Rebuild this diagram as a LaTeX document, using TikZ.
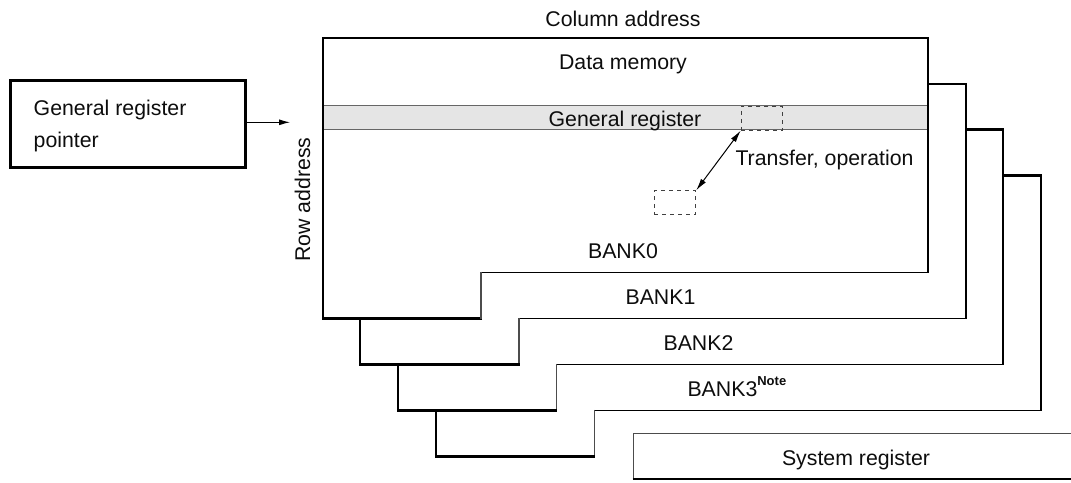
\documentclass[tikz,border=0pt]{standalone}
\usepackage{fontspec}
\setmainfont{Liberation Sans}
\usetikzlibrary{arrows.meta}
\tikzset{
  heavy/.style={draw=black,line width=2.5pt,line cap=butt},
  light/.style={draw=black,line width=1.2pt,line cap=butt},
  notch/.style={draw=black!70,line width=1.2pt,line cap=butt},
  lab/.style={inner sep=0pt,font=\fontsize{21.3}{25}\selectfont,text=black!95},
  dashbox/.style={draw=black!75,line width=0.9pt,dash pattern=on 4pt off 4pt,minimum width=41.6pt,inner sep=0pt,anchor=north west},
  link/.style={draw=black,line width=1pt,-{Latex[length=11pt,width=6pt]}},
  linkboth/.style={draw=black,line width=1pt,{Latex[length=12pt,width=6pt]}-{Latex[length=12pt,width=6pt]}},
}
\begin{document}
\begin{tikzpicture}[x=1pt,y=-1pt]
\useasboundingbox (0,0) rectangle (1071,482);
% register band
\fill[black!10] (323,105.7) rectangle (928,129.7);
\draw[draw=black!60,line width=1.2pt] (323,105.7) -- (928,105.7) (323,129.7) -- (928,129.7);
% BANK0
\draw[heavy] (481.6,318.3) -- (323,318.3) -- (323,38) -- (928,38) -- (928,272.9);
\draw[light] (928.5,272.3) -- (481,272.3);
\draw[notch] (481,271.8) -- (481,319.3);
% BANK1
\draw[heavy] (928,84) -- (966,84) -- (966,318.9);
\draw[light] (966.5,318.3) -- (519,318.3);
\draw[notch] (519,317.8) -- (519,365.3);
\draw[heavy] (360,318.3) -- (360,364.3) -- (519.6,364.3);
% BANK2
\draw[heavy] (966,129.7) -- (1003,129.7) -- (1003,364.9);
\draw[light] (1003.5,364.3) -- (556.7,364.3);
\draw[notch] (556.7,363.8) -- (556.7,411.3);
\draw[heavy] (398,364.3) -- (398,410.3) -- (557.3,410.3);
% BANK3
\draw[heavy] (1003,175.6) -- (1041,175.6) -- (1041,410.9);
\draw[light] (1041.5,410.3) -- (594.7,410.3);
\draw[notch] (594.7,409.8) -- (594.7,457.3);
\draw[heavy] (436,410.3) -- (436,456.3) -- (595.3,456.3);
% system register
\draw[draw=black!70,line width=1.2pt] (1071,433.7) -- (633.3,433.7) -- (633.3,479);
\draw[heavy] (632.7,479) -- (1071,479);
% pointer box
\node[draw=black,line width=2.5pt,minimum width=235pt,minimum height=87pt,inner sep=0pt,anchor=north west] (ptr) at (9.3,79) {};
\node[lab,anchor=base west] (ptrA) at (33.5,115) {General register};
\node[lab,anchor=base west] (ptrB) at (33.5,147) {pointer};
\coordinate (rowin) at (290,122.3);
\draw[link] (ptr.east |- rowin) -- (rowin);
% dashed boxes
\node[dashbox,minimum height=24pt] (reg) at (740.7,105.7) {};
\node[dashbox,minimum height=23.4pt] (mem) at (653.7,190.3) {};
\draw[linkboth] (mem.north east) -- (reg.south west);
% labels
\node[lab,anchor=base] (col) at (623,26) {Column address};
\node[lab,anchor=base] (dm) at (623,69) {Data memory};
\node[lab,anchor=base] (gr) at (625,126) {General register};
\node[lab,anchor=base] (tr) at (824.5,165) {Transfer, operation};
\node[lab,anchor=base,rotate=90] (row) at (310,199.5) {Row address};
\node[lab,anchor=base] (b0) at (623,258.3) {BANK0};
\node[lab,anchor=base] (b1) at (660.5,304) {BANK1};
\node[lab,anchor=base] (b2) at (698.5,350) {BANK2};
\node[lab,anchor=base west] (b3) at (687.3,396) {BANK3\raisebox{11pt}{\fontsize{13}{13}\selectfont\bfseries Note}};
\node[lab,anchor=base] (sys) at (856,465) {System register};
\end{tikzpicture}
\end{document}
